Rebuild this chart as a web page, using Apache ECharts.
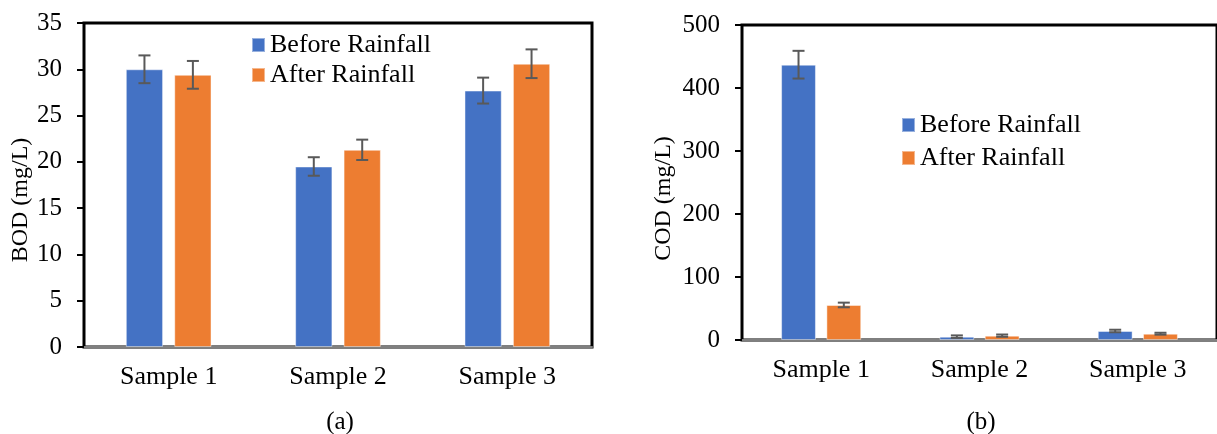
<!DOCTYPE html>
<html>
<head>
<meta charset="utf-8">
<script src="https://cdn.jsdelivr.net/npm/echarts@6/dist/echarts.min.js"></script>
<style>
html,body{margin:0;padding:0;background:#fff;}
#chart{width:1217px;height:434px;}
</style>
</head>
<body>
<div id="chart"></div>
<script>
const categories = ['Sample 1', 'Sample 2', 'Sample 3'];
const seriesNames = ['Before Rainfall', 'After Rainfall'];

const bodBefore = [30.0, 19.5, 27.7];
const bodBeforeErr = [1.5, 1.0, 1.4];
const bodAfter = [29.4, 21.3, 30.6];
const bodAfterErr = [1.5, 1.1, 1.55];

const codBefore = [437, 5.3, 14.3];
const codBeforeErr = [22, 2, 2];
const codAfter = [55.6, 6.9, 10];
const codAfterErr = [3.7, 1.8, 1.5];

const bodTicks = {min: 0, max: 35, interval: 5};
const codTicks = {min: 0, max: 500, interval: 100};

const FONT = '"Liberation Serif", "Times New Roman", serif';
const BLUE = '#4472C4';
const ORANGE = '#ED7D31';
const ERR = '#595959';

function errRenderer(offsetFrac) {
  return function (params, api) {
    const idx = api.value(0), v = api.value(1), e = api.value(2);
    const band = api.size([1, 0])[0];
    const x = api.coord([idx, v])[0] + offsetFrac * band;
    const yHi = api.coord([idx, v + e])[1];
    const yLo = api.coord([idx, v - e])[1];
    const cap = 6;
    const st = {stroke: ERR, lineWidth: 2};
    return {
      type: 'group',
      children: [
        {type: 'line', shape: {x1: x, y1: yHi, x2: x, y2: yLo}, style: st},
        {type: 'line', shape: {x1: x - cap, y1: yHi, x2: x + cap, y2: yHi}, style: st},
        {type: 'line', shape: {x1: x - cap, y1: yLo, x2: x + cap, y2: yLo}, style: st}
      ]
    };
  };
}

function errData(vals, errs) {
  return vals.map((v, i) => [i, v, errs[i]]);
}

const OFF = 0.143;

function xAxisCfg(gi) {
  return {
    type: 'category', gridIndex: gi, data: categories,
    axisLine: {show: true, lineStyle: {color: '#808080', width: 2}},
    axisTick: {show: false},
    axisLabel: {fontFamily: FONT, fontSize: 26, color: '#000', margin: 17}
  };
}

function yAxisCfg(gi, ticks, name, gap, pad) {
  return {
    type: 'value', gridIndex: gi, min: ticks.min, max: ticks.max, interval: ticks.interval,
    name: name, nameLocation: 'middle', nameGap: gap,
    nameTextStyle: {fontFamily: FONT, fontSize: 24, color: '#000', padding: pad},
    splitLine: {show: false},
    axisLine: {show: false},
    axisTick: {show: true, length: 7, lineStyle: {color: '#000', width: 2}},
    axisLabel: {fontFamily: FONT, fontSize: 25, color: '#000', margin: 22}
  };
}

function barSeries(name, gi, data, color) {
  return {
    name: name, type: 'bar', xAxisIndex: gi, yAxisIndex: gi, data: data,
    barWidth: '22%', barGap: '30%',
    itemStyle: {color: color, borderColor: 'rgba(255,255,255,0.45)', borderWidth: 1}
  };
}

function errSeries(gi, vals, errs, off) {
  return {
    type: 'custom', xAxisIndex: gi, yAxisIndex: gi, z: 5,
    renderItem: errRenderer(off), data: errData(vals, errs),
    encode: {x: 0, y: 1}, silent: true, clip: false
  };
}

const chart = echarts.init(document.getElementById('chart'), null, {renderer: 'canvas'});
chart.setOption({
  animation: false,
  backgroundColor: '#fff',
  textStyle: {fontFamily: FONT},
  title: [
    {text: '(a)', left: 335, top: 405, textAlign: 'center',
     textStyle: {fontFamily: FONT, fontSize: 25, fontWeight: 'normal', color: '#000'}},
    {text: '(b)', left: 976, top: 405, textAlign: 'center',
     textStyle: {fontFamily: FONT, fontSize: 25, fontWeight: 'normal', color: '#000'}}
  ],
  grid: [
    {left: 84, top: 23, width: 508, height: 324, show: true, borderColor: '#000', borderWidth: 3, containLabel: false},
    {left: 742, top: 25, width: 486, height: 315, show: true, borderColor: '#000', borderWidth: 3, containLabel: false}
  ],
  legend: [
    {data: seriesNames, orient: 'vertical', left: 251, top: 32, padding: 0, itemWidth: 13, itemHeight: 14, itemGap: 4,
     icon: 'rect', textStyle: {fontFamily: FONT, fontSize: 26, color: '#000', lineHeight: 26}},
    {data: seriesNames, orient: 'vertical', left: 901, top: 112, padding: 0, itemWidth: 13, itemHeight: 14, itemGap: 7,
     icon: 'rect', textStyle: {fontFamily: FONT, fontSize: 26, color: '#000', lineHeight: 26}}
  ],
  xAxis: [xAxisCfg(0), xAxisCfg(1)],
  yAxis: [
    yAxisCfg(0, bodTicks, 'BOD (mg/L)', 50, [0, 30, 0, 0]),
    yAxisCfg(1, codTicks, 'COD (mg/L)', 66, [0, 32, 0, 0])
  ],
  series: [
    barSeries(seriesNames[0], 0, bodBefore, BLUE),
    barSeries(seriesNames[1], 0, bodAfter, ORANGE),
    barSeries(seriesNames[0], 1, codBefore, BLUE),
    barSeries(seriesNames[1], 1, codAfter, ORANGE),
    errSeries(0, bodBefore, bodBeforeErr, -OFF),
    errSeries(0, bodAfter, bodAfterErr, OFF),
    errSeries(1, codBefore, codBeforeErr, -OFF),
    errSeries(1, codAfter, codAfterErr, OFF)
  ]
});
</script>
</body>
</html>
